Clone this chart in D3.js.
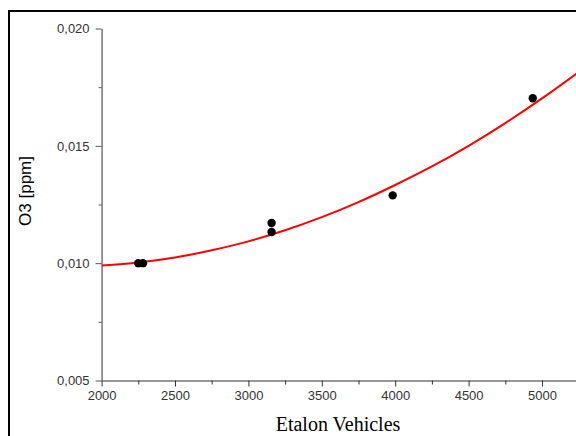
<!DOCTYPE html>
<html>
<head>
<meta charset="utf-8">
<script src="https://cdn.jsdelivr.net/npm/d3@7"></script>
<style>
  html, body { margin: 0; padding: 0; background: #fff; }
  svg { display: block; }
</style>
</head>
<body>
<svg id="chart" width="576" height="436"></svg>
<script>
// ---- data ----
const vehicles = [2250, 2282, 3158, 3158, 3983, 4937];
const ozone    = [0.0100, 0.0100, 0.01171, 0.01133, 0.01289, 0.01703];

// fitted curve, read at regular positions along the red line
const fitX = [2000, 2250, 2500, 2750, 3000, 3250, 3500, 3750, 4000, 4250, 4500, 4750, 5000, 5250];
const fitY = [0.00990, 0.01003, 0.01024, 0.01055, 0.01093, 0.01140, 0.01196, 0.01260, 0.01333, 0.01412, 0.01500, 0.01597, 0.01702, 0.01815];

const xMajor = [2000, 2500, 3000, 3500, 4000, 4500, 5000];
const xMinor = [2250, 2750, 3250, 3750, 4250, 4750];
const yMajor = [0.005, 0.010, 0.015, 0.020];
const yMinor = [0.0075, 0.0125, 0.0175];

const xTitle = "Etalon Vehicles";
const yTitle = "O3 [ppm]";

// ---- drawing ----
const svg = d3.select("#chart");
const x = d3.scaleLinear().domain([2000, 5000]).range([101.6, 542]);
const y = d3.scaleLinear().domain([0.005, 0.020]).range([380.5, 28.5]);

// outer frame
svg.append("rect")
  .attr("x", 9).attr("y", 11)
  .attr("width", 600).attr("height", 460)
  .attr("fill", "none").attr("stroke", "#000").attr("stroke-width", 2);

const fmtY = v => d3.format(".3f")(v).replace(".", ",");
const labelFont = "'Liberation Sans', Arial, sans-serif";

// x axis (major)
const gx = svg.append("g").attr("transform", `translate(0,${y(0.005)})`)
  .call(d3.axisBottom(x).tickValues(xMajor).tickSize(6).tickSizeOuter(0).tickPadding(4).tickFormat(d3.format("d")));
gx.select(".domain").remove();
gx.selectAll(".tick line").attr("stroke", "#333");
gx.selectAll(".tick text").attr("font-family", labelFont).attr("font-size", 13).attr("fill", "#333");
// x minor ticks
const gxm = svg.append("g").attr("transform", `translate(0,${y(0.005)})`)
  .call(d3.axisBottom(x).tickValues(xMinor).tickSize(4).tickSizeOuter(0).tickFormat(""));
gxm.select(".domain").remove();
gxm.selectAll(".tick line").attr("stroke", "#333");
// x axis line extending to the right edge
svg.append("line")
  .attr("x1", x(2000)).attr("x2", 580)
  .attr("y1", y(0.005) + 0.5).attr("y2", y(0.005) + 0.5)
  .attr("stroke", "#333").attr("stroke-width", 1.2);

// y axis (major)
const gy = svg.append("g").attr("transform", `translate(${x(2000)},0)`)
  .call(d3.axisLeft(y).tickValues(yMajor).tickSize(6).tickSizeOuter(0).tickPadding(6).tickFormat(fmtY));
gy.select(".domain").attr("stroke", "#777").attr("stroke-width", 1.5);
gy.selectAll(".tick line").attr("stroke", "#555");
gy.selectAll(".tick text").attr("font-family", labelFont).attr("font-size", 13).attr("fill", "#333");
const gym = svg.append("g").attr("transform", `translate(${x(2000)},0)`)
  .call(d3.axisLeft(y).tickValues(yMinor).tickSize(3).tickSizeOuter(0).tickFormat(""));
gym.select(".domain").remove();
gym.selectAll(".tick line").attr("stroke", "#555");

// fitted curve
const fitData = fitX.map((v, i) => [v, fitY[i]]);
svg.append("clipPath").attr("id", "clip")
  .append("rect").attr("x", x(2000)).attr("y", 12).attr("width", 480).attr("height", 380);
svg.append("path")
  .datum(fitData)
  .attr("clip-path", "url(#clip)")
  .attr("fill", "none")
  .attr("stroke", "#ff0000")
  .attr("stroke-width", 2)
  .attr("d", d3.line().x(d => x(d[0])).y(d => y(d[1])).curve(d3.curveNatural));

// data points
svg.append("g").selectAll("circle")
  .data(vehicles.map((v, i) => [v, ozone[i]]))
  .join("circle")
  .attr("cx", d => x(d[0])).attr("cy", d => y(d[1]))
  .attr("r", 4.2).attr("fill", "#000");

// axis titles
svg.append("text")
  .attr("x", 338).attr("y", 431)
  .attr("text-anchor", "middle")
  .attr("font-family", "'Liberation Serif', 'Times New Roman', serif")
  .attr("font-size", 20).attr("fill", "#000")
  .text(xTitle);

svg.append("text")
  .attr("transform", "translate(31,191) rotate(-90)")
  .attr("text-anchor", "middle")
  .attr("font-family", labelFont)
  .attr("font-size", 17).attr("fill", "#000")
  .text(yTitle);
</script>
</body>
</html>
